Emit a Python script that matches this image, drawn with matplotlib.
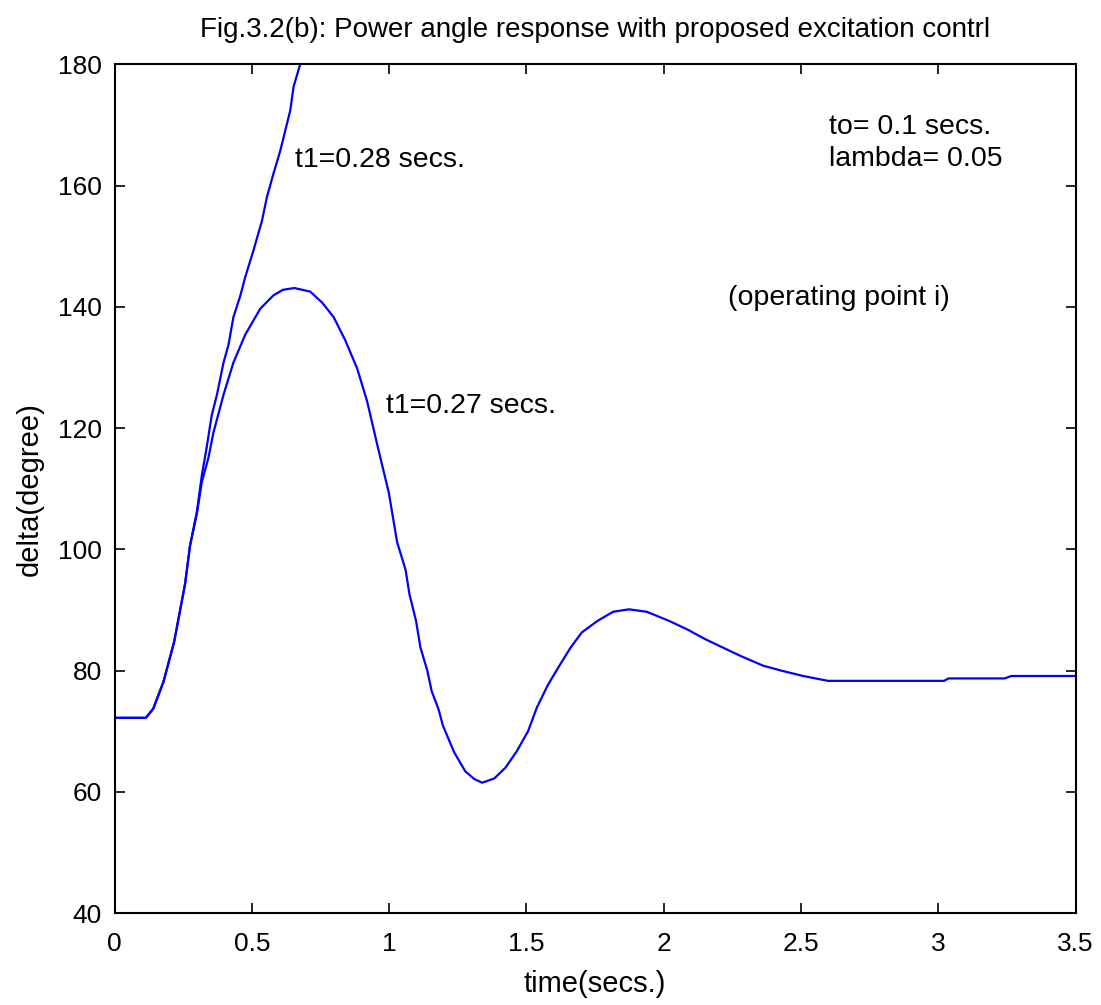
import matplotlib
matplotlib.use('Agg')
import matplotlib.pyplot as plt

plt.rcParams['font.family'] = ['Liberation Sans', 'DejaVu Sans']

# t1 = 0.27 secs (stable case)
t_stable = [0.0, 0.114, 0.141, 0.178, 0.217, 0.257, 0.275, 0.300, 0.318, 0.342, 0.360,
            0.397, 0.433, 0.476, 0.531, 0.579, 0.613, 0.655, 0.713, 0.756, 0.798,
            0.840, 0.883, 0.920, 0.956, 0.999, 1.029, 1.060, 1.074, 1.098, 1.114,
            1.139, 1.155, 1.180, 1.196, 1.237, 1.277, 1.310, 1.339, 1.383, 1.424,
            1.465, 1.506, 1.538, 1.579, 1.620, 1.661, 1.702, 1.759, 1.816, 1.873,
            1.938, 2.019, 2.085, 2.150, 2.215, 2.280, 2.362, 2.427, 2.508, 2.598,
            3.021, 3.037, 3.241, 3.266, 3.500]
d_stable = [72.2, 72.2, 73.7, 78.1, 84.7, 94.3, 100.6, 105.9, 111.1, 115.1, 119.2,
            125.5, 130.8, 135.4, 139.7, 141.9, 142.8, 143.1, 142.5, 140.7, 138.3,
            134.5, 129.9, 124.4, 117.4, 109.3, 101.2, 96.6, 92.6, 88.2, 83.8,
            80.0, 76.6, 73.6, 70.9, 66.5, 63.4, 62.1, 61.5, 62.2, 64.0,
            66.7, 70.0, 73.9, 77.7, 80.8, 83.8, 86.3, 88.2, 89.7, 90.1,
            89.7, 88.2, 86.8, 85.2, 83.8, 82.4, 80.8, 80.0, 79.1, 78.3,
            78.3, 78.7, 78.7, 79.1, 79.1]

# t1 = 0.28 secs (unstable case)
t_unstable = [0.0, 0.114, 0.141, 0.178, 0.217, 0.257, 0.275, 0.300, 0.318, 0.336,
              0.354, 0.373, 0.397, 0.415, 0.433, 0.458, 0.476, 0.506, 0.537, 0.555,
              0.579, 0.604, 0.622, 0.640, 0.652, 0.676, 0.700]
d_unstable = [72.2, 72.2, 73.7, 78.1, 84.7, 94.3, 100.6, 106.2, 112.2, 116.9,
              122.1, 125.5, 130.8, 133.7, 138.3, 141.8, 144.9, 149.3, 154.2, 158.1,
              162.0, 165.8, 169.1, 172.4, 176.3, 180.0, 183.5]

fig = plt.figure(figsize=(11.01, 10.05), dpi=100)
ax = fig.add_axes([0.104, 0.0915, 0.873, 0.8445])

ax.plot(t_unstable, d_unstable, color='#0000ff', lw=1.6)
ax.plot(t_stable, d_stable, color='#0000ff', lw=1.6)

ax.set_xlim(0, 3.5)
ax.set_ylim(40, 180)
ax.set_xticks([0, 0.5, 1, 1.5, 2, 2.5, 3, 3.5])
ax.set_xticklabels(['0', '0.5', '1', '1.5', '2', '2.5', '3', '3.5'])
ax.set_yticks(range(40, 181, 20))
ax.tick_params(direction='in', length=7, width=1.2, labelsize=19,
               top=True, right=True)
ax.tick_params(axis='x', pad=14)
ax.tick_params(axis='y', pad=9)
for s in ax.spines.values():
    s.set_linewidth(1.5)

ax.set_title('Fig.3.2(b): Power angle response with proposed excitation contrl',
             fontsize=20, pad=20)
ax.set_xlabel('time(secs.)', fontsize=21, labelpad=10)
ax.set_ylabel('delta(degree)', fontsize=21, labelpad=10)

ax.text(0.658, 164.2, 't1=0.28 secs.', fontsize=20.5, va='center')
ax.text(0.99, 123.6, 't1=0.27 secs.', fontsize=20.5, va='center')
ax.text(2.6, 169.6, 'to= 0.1 secs.', fontsize=20.5, va='center')
ax.text(2.6, 164.3, 'lambda= 0.05', fontsize=20.5, va='center')
ax.text(2.234, 141.4, '(operating point i)', fontsize=20.5, va='center')

fig.savefig('out.png', dpi=100)
